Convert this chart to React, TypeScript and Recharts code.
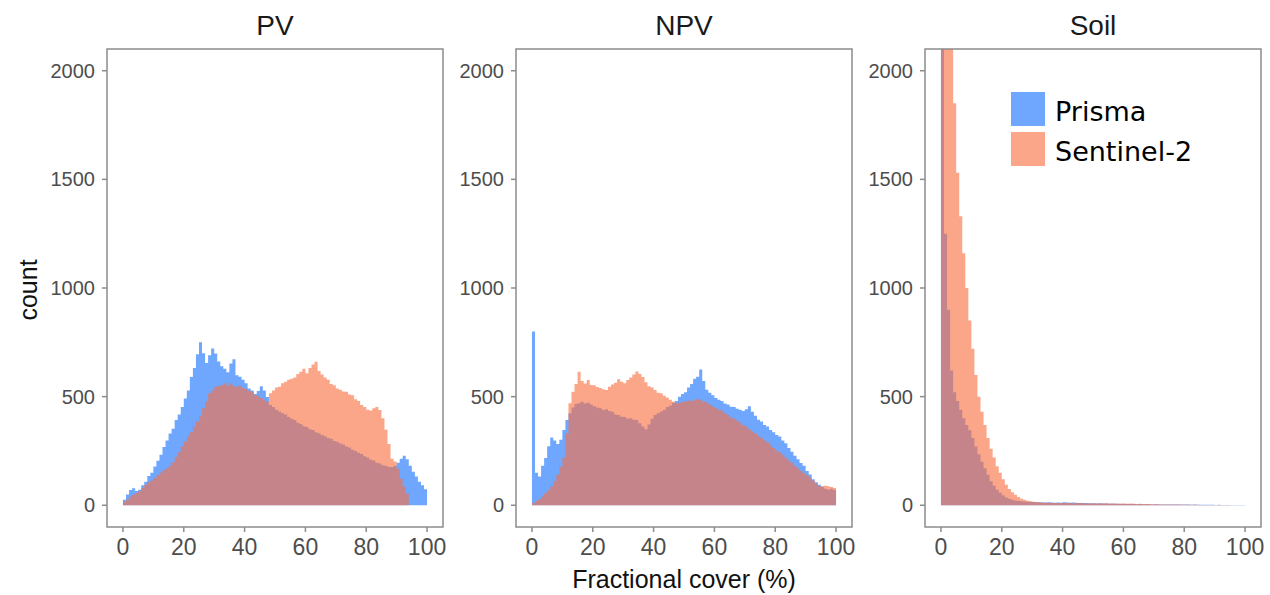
import React from "react";
import { AreaChart, Area, XAxis, YAxis, ReferenceArea, Legend } from "recharts";

// bin left edges, 1% wide bins from 0 to 100
const binEdges = Array.from({ length: 101 }, (_, i) => i);
const xTicks = [0, 20, 40, 60, 80, 100];
const yTicks = [0, 500, 1000, 1500, 2000];
const panelTitles = ["PV", "NPV", "Soil"];
const seriesNames = ["Prisma", "Sentinel-2"];

const pvPrisma = [
  25, 50, 70, 78, 66, 72, 92, 108, 135, 150,
  178, 205, 232, 268, 298, 330, 352, 392, 418, 452,
  492, 528, 590, 632, 695, 750, 700, 655, 690, 722,
  698, 662, 640, 628, 612, 652, 672, 598, 592, 578,
  562, 538, 528, 512, 526, 548, 528, 498, 462, 452,
  440, 432, 424, 418, 406, 398, 392, 380, 374, 364,
  360, 350, 346, 336, 332, 324, 318, 310, 306, 296,
  292, 284, 280, 270, 266, 256, 250, 242, 236, 226,
  220, 210, 206, 196, 192, 184, 182, 176, 176, 182,
  196, 214, 228, 212, 182, 154, 132, 108, 92, 74,
];
const pvSentinel = [
  15, 26, 40, 48, 56, 64, 80, 94, 106, 114,
  126, 138, 150, 162, 170, 182, 198, 222, 244, 272,
  294, 316, 336, 362, 386, 410, 446, 478, 516, 528,
  546, 548, 554, 562, 552, 560, 548, 546, 550, 540,
  536, 526, 522, 508, 504, 494, 486, 476, 516, 528,
  542, 546, 562, 568, 578, 582, 588, 604, 614, 628,
  608, 632, 648, 660, 618, 602, 588, 578, 558, 552,
  538, 532, 524, 522, 510, 506, 488, 480, 462, 452,
  440, 436, 446, 452, 438, 400, 348, 282, 214, 202,
  168, 122, 86, 54, 0, 0, 0, 0, 0, 0,
];
const npvPrisma = [
  800, 150, 132, 182, 218, 272, 312, 298, 282, 302,
  346, 392, 424, 450, 466, 470, 476, 468, 472, 464,
  456, 450, 446, 438, 442, 434, 430, 418, 416, 408,
  406, 398, 400, 394, 392, 378, 362, 350, 372, 398,
  416, 424, 432, 438, 452, 458, 472, 480, 500, 512,
  520, 542, 558, 582, 592, 625, 572, 532, 518, 506,
  494, 486, 480, 468, 464, 454, 452, 444, 440, 434,
  442, 456, 430, 412, 394, 386, 370, 362, 346, 336,
  324, 316, 298, 286, 264, 246, 228, 212, 194, 182,
  158, 142, 120, 106, 94, 86, 76, 72, 76, 70,
];
const npvSentinel = [
  10, 20, 28, 40, 56, 70, 86, 110, 140, 176,
  220, 330, 470, 522, 558, 615, 572, 560, 576, 554,
  552, 544, 540, 534, 530, 546, 556, 564, 580, 568,
  562, 576, 588, 602, 616, 604, 590, 566, 548, 542,
  530, 518, 516, 504, 496, 486, 476, 470, 472, 476,
  478, 482, 480, 486, 488, 486, 478, 474, 464, 456,
  448, 440, 436, 424, 416, 404, 398, 390, 380, 370,
  362, 350, 340, 332, 318, 312, 300, 290, 278, 264,
  252, 244, 232, 220, 206, 196, 182, 170, 158, 148,
  138, 128, 114, 100, 88, 86, 90, 88, 84, 80,
];
const soilPrisma = [
  2600, 1250, 900, 620, 520, 480, 440, 400, 370, 345,
  310, 270, 235, 200, 170, 140, 110, 90, 72, 58,
  46, 36, 30, 25, 22, 20, 18, 17, 16, 15,
  15, 14, 14, 13, 13, 14, 13, 12, 13, 12,
  14, 13, 12, 13, 12, 11, 10, 10, 9, 9,
  9, 8, 9, 8, 8, 7, 8, 7, 7, 6,
  7, 6, 6, 6, 5, 6, 5, 5, 5, 4,
  5, 4, 4, 4, 4, 3, 4, 3, 3, 3,
  3, 3, 2, 3, 2, 2, 2, 2, 2, 2,
  1, 2, 1, 1, 1, 1, 1, 1, 1, 1,
];
const soilSentinel = [
  3200, 3000, 2700, 2300, 1850, 1530, 1330, 1160, 1000, 850,
  720, 600, 500, 430, 370, 310, 260, 220, 180, 150,
  120, 95, 75, 60, 48, 38, 30, 25, 21, 18,
  16, 15, 14, 13, 12, 12, 11, 11, 10, 10,
  10, 9, 10, 9, 9, 10, 9, 8, 9, 8,
  8, 9, 8, 8, 9, 8, 7, 8, 7, 8,
  7, 7, 8, 7, 6, 7, 6, 6, 6, 5,
  5, 5, 4, 4, 4, 3, 3, 3, 3, 2,
  2, 2, 2, 2, 2, 1, 1, 1, 1, 1,
  1, 1, 1, 1, 1, 0, 0, 0, 0, 0,
];

const FONT = "'Liberation Sans', Arial, sans-serif";
const BLUE = "#5b9bff";
const BLUE_OP = 0.88;
const ORANGE = "#f87040";
const ORANGE_OP = 0.62;
const BORDER = "#8c8c8c";
const X_DOMAIN = [-5.25, 105.25];
const Y_DOMAIN = [-100, 2100];

const buildBins = (prisma: number[], sentinel: number[]) =>
  binEdges.map((x, i) => ({
    x,
    prisma: i < prisma.length ? prisma[i] : 0,
    sentinel: i < sentinel.length ? sentinel[i] : 0,
  }));

const panels = [
  { title: panelTitles[0], plotLeft: 107, data: buildBins(pvPrisma, pvSentinel) },
  { title: panelTitles[1], plotLeft: 516, data: buildBins(npvPrisma, npvSentinel) },
  { title: panelTitles[2], plotLeft: 925, data: buildBins(soilPrisma, soilSentinel) },
];

const swatch: Record<string, { c: string; o: number }> = {
  Prisma: { c: BLUE, o: BLUE_OP },
  "Sentinel-2": { c: ORANGE, o: ORANGE_OP },
};

const renderLegend = (props: any) => (
  <div>
    {(props.payload || []).map((entry: any) => (
      <div key={entry.value} style={{ display: "flex", alignItems: "center", height: 40 }}>
        <div
          style={{
            width: 34,
            height: 34,
            background: swatch[entry.value].c,
            opacity: swatch[entry.value].o,
          }}
        />
        <span
          style={{
            marginLeft: 10,
            fontFamily: "'DejaVu Sans', sans-serif",
            fontSize: 27,
            color: "#000",
            position: "relative",
            top: 2,
            whiteSpace: "nowrap",
          }}
        >
          {entry.value}
        </span>
      </div>
    ))}
  </div>
);

const YAXIS_W = 60;
const PLOT_W = 336;

const Panel = ({ plotLeft, data, showLegend }: any) => (
  <div style={{ position: "absolute", left: plotLeft - YAXIS_W, top: 0 }}>
    <AreaChart
      width={YAXIS_W + PLOT_W + 5}
      height={595}
      data={data}
      margin={{ top: 49, right: 5, bottom: 28, left: 0 }}
    >
      <XAxis
        dataKey="x"
        type="number"
        domain={X_DOMAIN}
        ticks={xTicks}
        interval={0}
        allowDataOverflow
        axisLine={false}
        tickSize={5}
        tickMargin={7}
        height={40}
        tickLine={{ stroke: BORDER, strokeWidth: 1.5 }}
        tick={{ fill: "#4d4d4d", fontSize: 23, fontFamily: FONT }}
      />
      <YAxis
        type="number"
        domain={Y_DOMAIN}
        ticks={yTicks}
        interval={0}
        allowDataOverflow
        axisLine={false}
        width={YAXIS_W}
        tickSize={5}
        tickMargin={7}
        tickLine={{ stroke: BORDER, strokeWidth: 1.5 }}
        tick={{ fill: "#4d4d4d", fontSize: 20, fontFamily: FONT }}
      />
      <Area
        type="stepAfter"
        dataKey="prisma"
        name={seriesNames[0]}
        stroke="none"
        fill={BLUE}
        fillOpacity={BLUE_OP}
        baseValue={0}
        isAnimationActive={false}
      />
      <Area
        type="stepAfter"
        dataKey="sentinel"
        name={seriesNames[1]}
        stroke="none"
        fill={ORANGE}
        fillOpacity={ORANGE_OP}
        baseValue={0}
        isAnimationActive={false}
      />
      <ReferenceArea
        x1={X_DOMAIN[0]}
        x2={X_DOMAIN[1]}
        y1={Y_DOMAIN[0]}
        y2={Y_DOMAIN[1]}
        fill="none"
        stroke={BORDER}
        strokeWidth={1.5}
        ifOverflow="visible"
      />
      {showLegend && (
        <Legend
          layout="horizontal"
          align="center"
          verticalAlign="middle"
          content={renderLegend}
          wrapperStyle={{ left: 146, top: 89, width: "auto" }}
        />
      )}
    </AreaChart>
  </div>
);

export default function App() {
  return (
    <div
      style={{
        position: "absolute",
        left: 0,
        top: 0,
        width: 1270,
        height: 595,
        background: "#fff",
        fontFamily: FONT,
      }}
    >
      {panels.map((p, i) => (
        <React.Fragment key={p.title}>
          <div
            style={{
              position: "absolute",
              left: p.plotLeft,
              width: PLOT_W,
              top: 10,
              textAlign: "center",
              fontSize: 28,
              color: "#1a1a1a",
            }}
          >
            {p.title}
          </div>
          <Panel plotLeft={p.plotLeft} data={p.data} showLegend={i === 2} />
        </React.Fragment>
      ))}
      <div
        style={{
          position: "absolute",
          left: 28,
          top: 290,
          transform: "translate(-50%, -50%) rotate(-90deg)",
          fontSize: 25,
          color: "#111",
          whiteSpace: "nowrap",
        }}
      >
        count
      </div>
      <div
        style={{
          position: "absolute",
          left: 684,
          top: 565,
          transform: "translateX(-50%)",
          fontSize: 25,
          color: "#111",
          whiteSpace: "nowrap",
        }}
      >
        Fractional cover (%)
      </div>
    </div>
  );
}
